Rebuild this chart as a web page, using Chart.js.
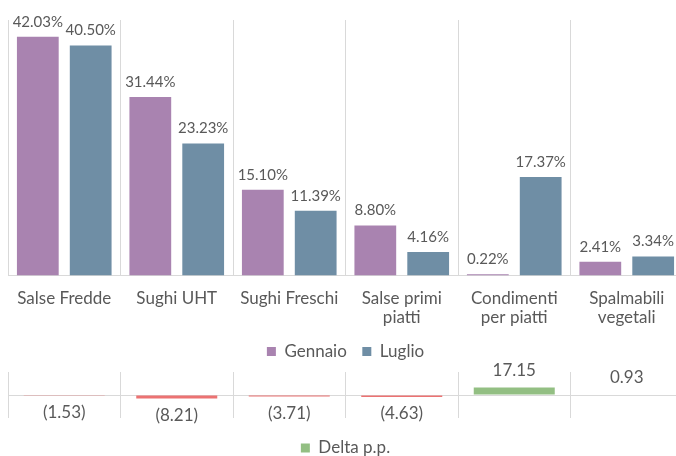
<!DOCTYPE html>
<html>
<head>
<meta charset="utf-8">
<script src="https://cdn.jsdelivr.net/npm/chart.js@4.4.1/dist/chart.umd.min.js"></script>
<style>
  html, body { margin: 0; padding: 0; background: #fff; overflow: hidden; width: 676px; height: 456px; }
  .box { position: absolute; left: 0; }
  #top { top: 0; }
  #bottom { top: 358px; }
</style>
</head>
<body>
<div class="box" id="top"><canvas id="shareChart" width="692" height="370"></canvas></div>
<div class="box" id="bottom"><canvas id="deltaChart" width="692" height="106"></canvas></div>
<script>
// categories and values
const categories = [
  'Salse Fredde',
  'Sughi UHT',
  'Sughi Freschi',
  ['Salse primi', 'piatti'],
  ['Condimenti', 'per piatti'],
  ['Spalmabili', 'vegetali']
];
const gennaio = [42.03, 31.44, 15.10, 8.80, 0.22, 2.41];
const luglio = [40.50, 23.23, 11.39, 4.16, 17.37, 3.34];
const delta = [-1.53, -8.21, -3.71, -4.63, 17.15, 0.93];

const FONT = 'Lato, "Open Sans", sans-serif';
const TXT = '#595959';
const GRID = '#d9d9d9';
const RED = '#ec7272';
const GREEN = '#93bf83';

Chart.defaults.font.family = FONT;
Chart.defaults.color = TXT;

// draws the value above (or below, for negatives) each bar
function valueLabels(id, size, format, offset) {
  return {
    id: id,
    afterDatasetsDraw(chart) {
      const ctx = chart.ctx;
      ctx.save();
      ctx.font = size + 'px ' + FONT;
      ctx.fillStyle = TXT;
      ctx.textAlign = 'center';
      ctx.textBaseline = 'middle';
      chart.data.datasets.forEach((ds, i) => {
        chart.getDatasetMeta(i).data.forEach((bar, j) => {
          const v = ds.data[j];
          const y = v >= 0 ? bar.y - offset : bar.y + offset;
          ctx.fillText(format(v), bar.x, y);
        });
      });
      ctx.restore();
    }
  };
}

new Chart(document.getElementById('shareChart'), {
  type: 'bar',
  data: {
    labels: categories,
    datasets: [
      { label: 'Gennaio', data: gennaio, backgroundColor: '#a983b0' },
      { label: 'Luglio', data: luglio, backgroundColor: '#6f8ea5' }
    ]
  },
  options: {
    responsive: false,
    animation: false,
    categoryPercentage: 0.94,
    barPercentage: 0.79,
    layout: { padding: { top: 20, left: 8, right: 9, bottom: 0 } },
    scales: {
      x: {
        grid: { color: GRID, drawTicks: false, offset: true },
        border: { color: GRID },
        ticks: { font: { size: 17, lineHeight: 1.12 }, color: TXT, padding: 13, maxRotation: 0, autoSkip: false },
        afterFit: s => { s.height = 52; }
      },
      y: { display: false, min: 0, max: 45 }
    },
    plugins: {
      legend: {
        position: 'bottom',
        labels: { boxWidth: 9, boxHeight: 9, font: { size: 17 }, color: TXT, padding: 15.5 }
      },
      tooltip: { enabled: false }
    }
  },
  plugins: [valueLabels('shareLabels', 15, v => v.toFixed(2) + '%', 15)]
});

new Chart(document.getElementById('deltaChart'), {
  type: 'bar',
  data: {
    labels: categories,
    datasets: [{
      label: 'Delta p.p.',
      data: delta,
      backgroundColor: c => (c.raw < 0 ? RED : GREEN)
    }]
  },
  options: {
    responsive: false,
    animation: false,
    categoryPercentage: 1,
    barPercentage: 0.72,
    layout: { padding: { top: 14, left: 8, right: 9, bottom: 0 } },
    scales: {
      x: {
        grid: { color: GRID, drawTicks: false, offset: true },
        border: { display: false },
        ticks: { display: false },
        afterFit: s => { s.height = 0; }
      },
      y: {
        display: true,
        min: -53,
        max: 53,
        ticks: { display: false },
        border: { display: false },
        grid: { drawTicks: false, color: c => (c.tick && c.tick.value === 0 ? GRID : 'rgba(0,0,0,0)') }
      }
    },
    plugins: {
      legend: {
        position: 'bottom',
        labels: {
          boxWidth: 9, boxHeight: 9, font: { size: 17 }, color: TXT, padding: 21.5,
          generateLabels: chart => Chart.defaults.plugins.legend.labels.generateLabels(chart)
            .map(l => Object.assign(l, { fillStyle: GREEN, strokeStyle: GREEN }))
        }
      },
      tooltip: { enabled: false }
    }
  },
  plugins: [valueLabels('deltaLabels', 17, v => (v < 0 ? '(' + Math.abs(v).toFixed(2) + ')' : v.toFixed(2)), 17)]
});
</script>
</body>
</html>
